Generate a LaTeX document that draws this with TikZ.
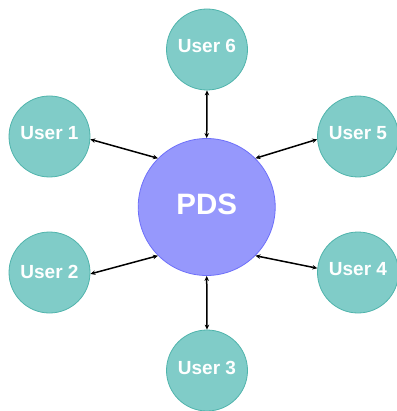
\documentclass[tikz,border=0pt]{standalone}
\usepackage{fontspec}
\setmainfont{Liberation Sans}
\usetikzlibrary{arrows.meta}
\definecolor{userfill}{RGB}{128,204,200}
\definecolor{userline}{RGB}{80,180,172}
\definecolor{hubfill}{RGB}{150,152,252}
\definecolor{hubline}{RGB}{110,112,250}
% raise a label a little without changing its box
\newcommand{\liftlabel}[2]{\raisebox{#1}[\height][\depth]{#2}}
\tikzset{
  user/.style={circle, draw=userline, line width=0.8pt, fill=userfill,
    minimum size=81pt, inner sep=0pt, text=white,
    font=\bfseries\fontsize{19}{19}\selectfont},
  hub/.style={circle, draw=hubline, line width=0.8pt, fill=hubfill,
    minimum size=137pt, inner sep=0pt, text=white,
    font=\bfseries\fontsize{29.5}{30}\selectfont},
  link/.style={{Stealth[length=5pt,width=4.5pt]}-{Stealth[length=5pt,width=4.5pt]},
    line width=1.5pt, black}
}
\begin{document}
\begin{tikzpicture}[x=1pt,y=-1pt]
  \useasboundingbox[fill=white] (0,0) rectangle (396,411);
  % central hub
  \node[hub] (pds) at (206.7,207) {\liftlabel{2.5pt}{PDS}};
  % users around it
  \node[user] (u6) at (207,49.5) {\liftlabel{4pt}{User 6}};
  \node[user] (u1) at (49.5,136.5) {\liftlabel{3pt}{User 1}};
  \node[user] (u5) at (358,136.5) {\liftlabel{3pt}{User 5}};
  \node[user] (u2) at (49.5,272.5) {\liftlabel{1pt}{User 2}};
  \node[user] (u4) at (358,272.5) {\liftlabel{3pt}{User 4}};
  \node[user] (u3) at (207,370.5) {\liftlabel{3pt}{User 3}};
  % two-way links
  \draw[link] (u6.south) -- (pds.90);
  \draw[link] (u1.-4) -- (pds.135);
  \draw[link] (u5.184) -- (pds.45);
  \draw[link] (u2.-2) -- (pds.225);
  \draw[link] (u4.174) -- (pds.315);
  \draw[link] (u3.north) -- (pds.270);
\end{tikzpicture}
\end{document}
